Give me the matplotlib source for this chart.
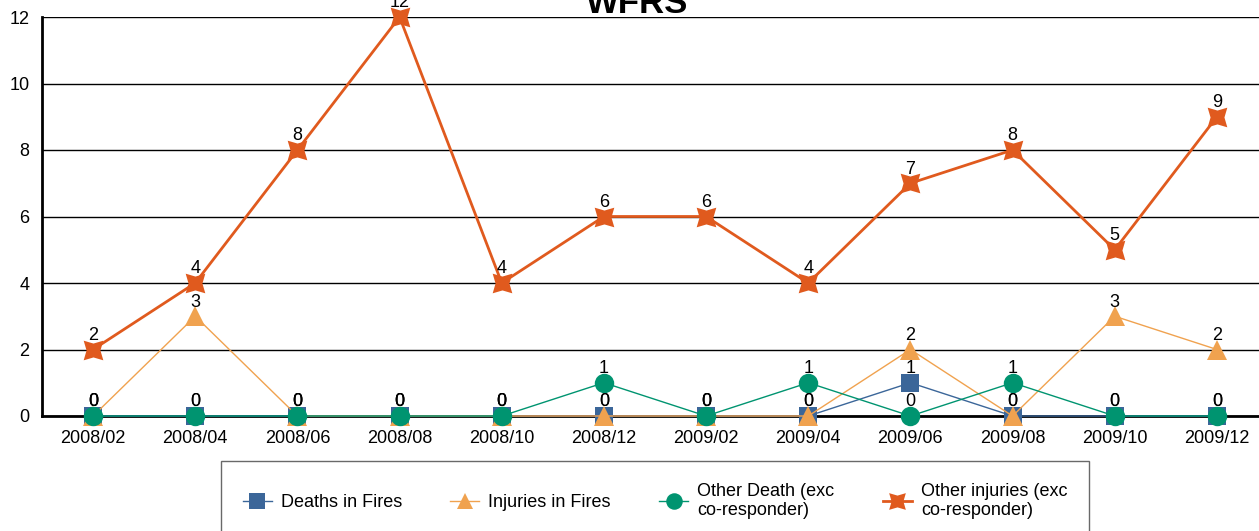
import matplotlib
matplotlib.use("Agg")
import matplotlib.pyplot as plt
import numpy as np

plt.rcParams['font.family'] = ['Liberation Sans', 'DejaVu Sans']

months = ['2008/02', '2008/04', '2008/06', '2008/08', '2008/10', '2008/12',
          '2009/02', '2009/04', '2009/06', '2009/08', '2009/10', '2009/12']
deaths_fires = [0, 0, 0, 0, 0, 0, 0, 0, 1, 0, 0, 0]
injuries_fires = [0, 3, 0, 0, 0, 0, 0, 0, 2, 0, 3, 2]
other_death = [0, 0, 0, 0, 0, 1, 0, 1, 0, 1, 0, 0]
other_injuries = [2, 4, 8, 12, 4, 6, 6, 4, 7, 8, 5, 9]

series = [
    ('Deaths in Fires', deaths_fires, '#3b6699', 's', 13, 1.0),
    ('Injuries in Fires', injuries_fires, '#f0a24f', '^', 14, 1.0),
    ('Other Death (exc\nco-responder)', other_death, '#009470', 'o', 14, 1.0),
    ('Other injuries (exc\nco-responder)', other_injuries, '#e05a1e', (4, 1, 45), 20, 2.0),
]

fig = plt.figure(figsize=(12.59, 5.31), dpi=100)
ax = fig.add_axes([42 / 1259, 1 - 416 / 531, (1268 - 42) / 1259, (416 - 17) / 531])

x = np.arange(len(months))
handles = []
for name, vals, col, mk, ms, lw in series:
    h, = ax.plot(x, vals, color=col, lw=lw, marker=mk, markersize=ms,
                 markeredgewidth=0, label=name, clip_on=False, zorder=3)
    handles.append(h)
    for xi, v in zip(x, vals):
        ax.annotate(str(v), (xi, v), xytext=(0, 4), textcoords='offset points',
                    ha='center', va='bottom', fontsize=13, color='black', zorder=5,
                    annotation_clip=False)

ax.set_xlim(-0.5, 11.5)
ax.set_ylim(0, 12)
ax.set_yticks(range(0, 13, 2))
ax.set_xticks(x)
ax.set_xticklabels(months)
ax.tick_params(axis='both', length=0, labelsize=13)
ax.tick_params(axis='x', pad=10)
ax.tick_params(axis='y', pad=9)
ax.yaxis.grid(True, color='black', lw=1)
ax.set_axisbelow(True)
for s in ['top', 'right']:
    ax.spines[s].set_visible(False)
ax.spines['left'].set_linewidth(2)
ax.spines['bottom'].set_linewidth(2)
ax.spines['bottom'].set_zorder(2.5)

fig.text(637 / 1259, 1 - 13 / 531, 'WFRS', ha='center', va='baseline',
         fontsize=25, fontweight='bold')

leg = fig.legend(handles=handles, loc='upper left',
                 bbox_to_anchor=(221 / 1259, 0, (1089 - 221) / 1259, 1 - 461 / 531),
                 ncol=4, mode='expand', fontsize=13, frameon=True, fancybox=False,
                 edgecolor='#444444', handlelength=1.6, handletextpad=0.5,
                 borderpad=1.2, borderaxespad=0, labelspacing=0.1, markerscale=0.85)
leg.get_frame().set_linewidth(1)

fig.savefig('out.png', dpi=100)
